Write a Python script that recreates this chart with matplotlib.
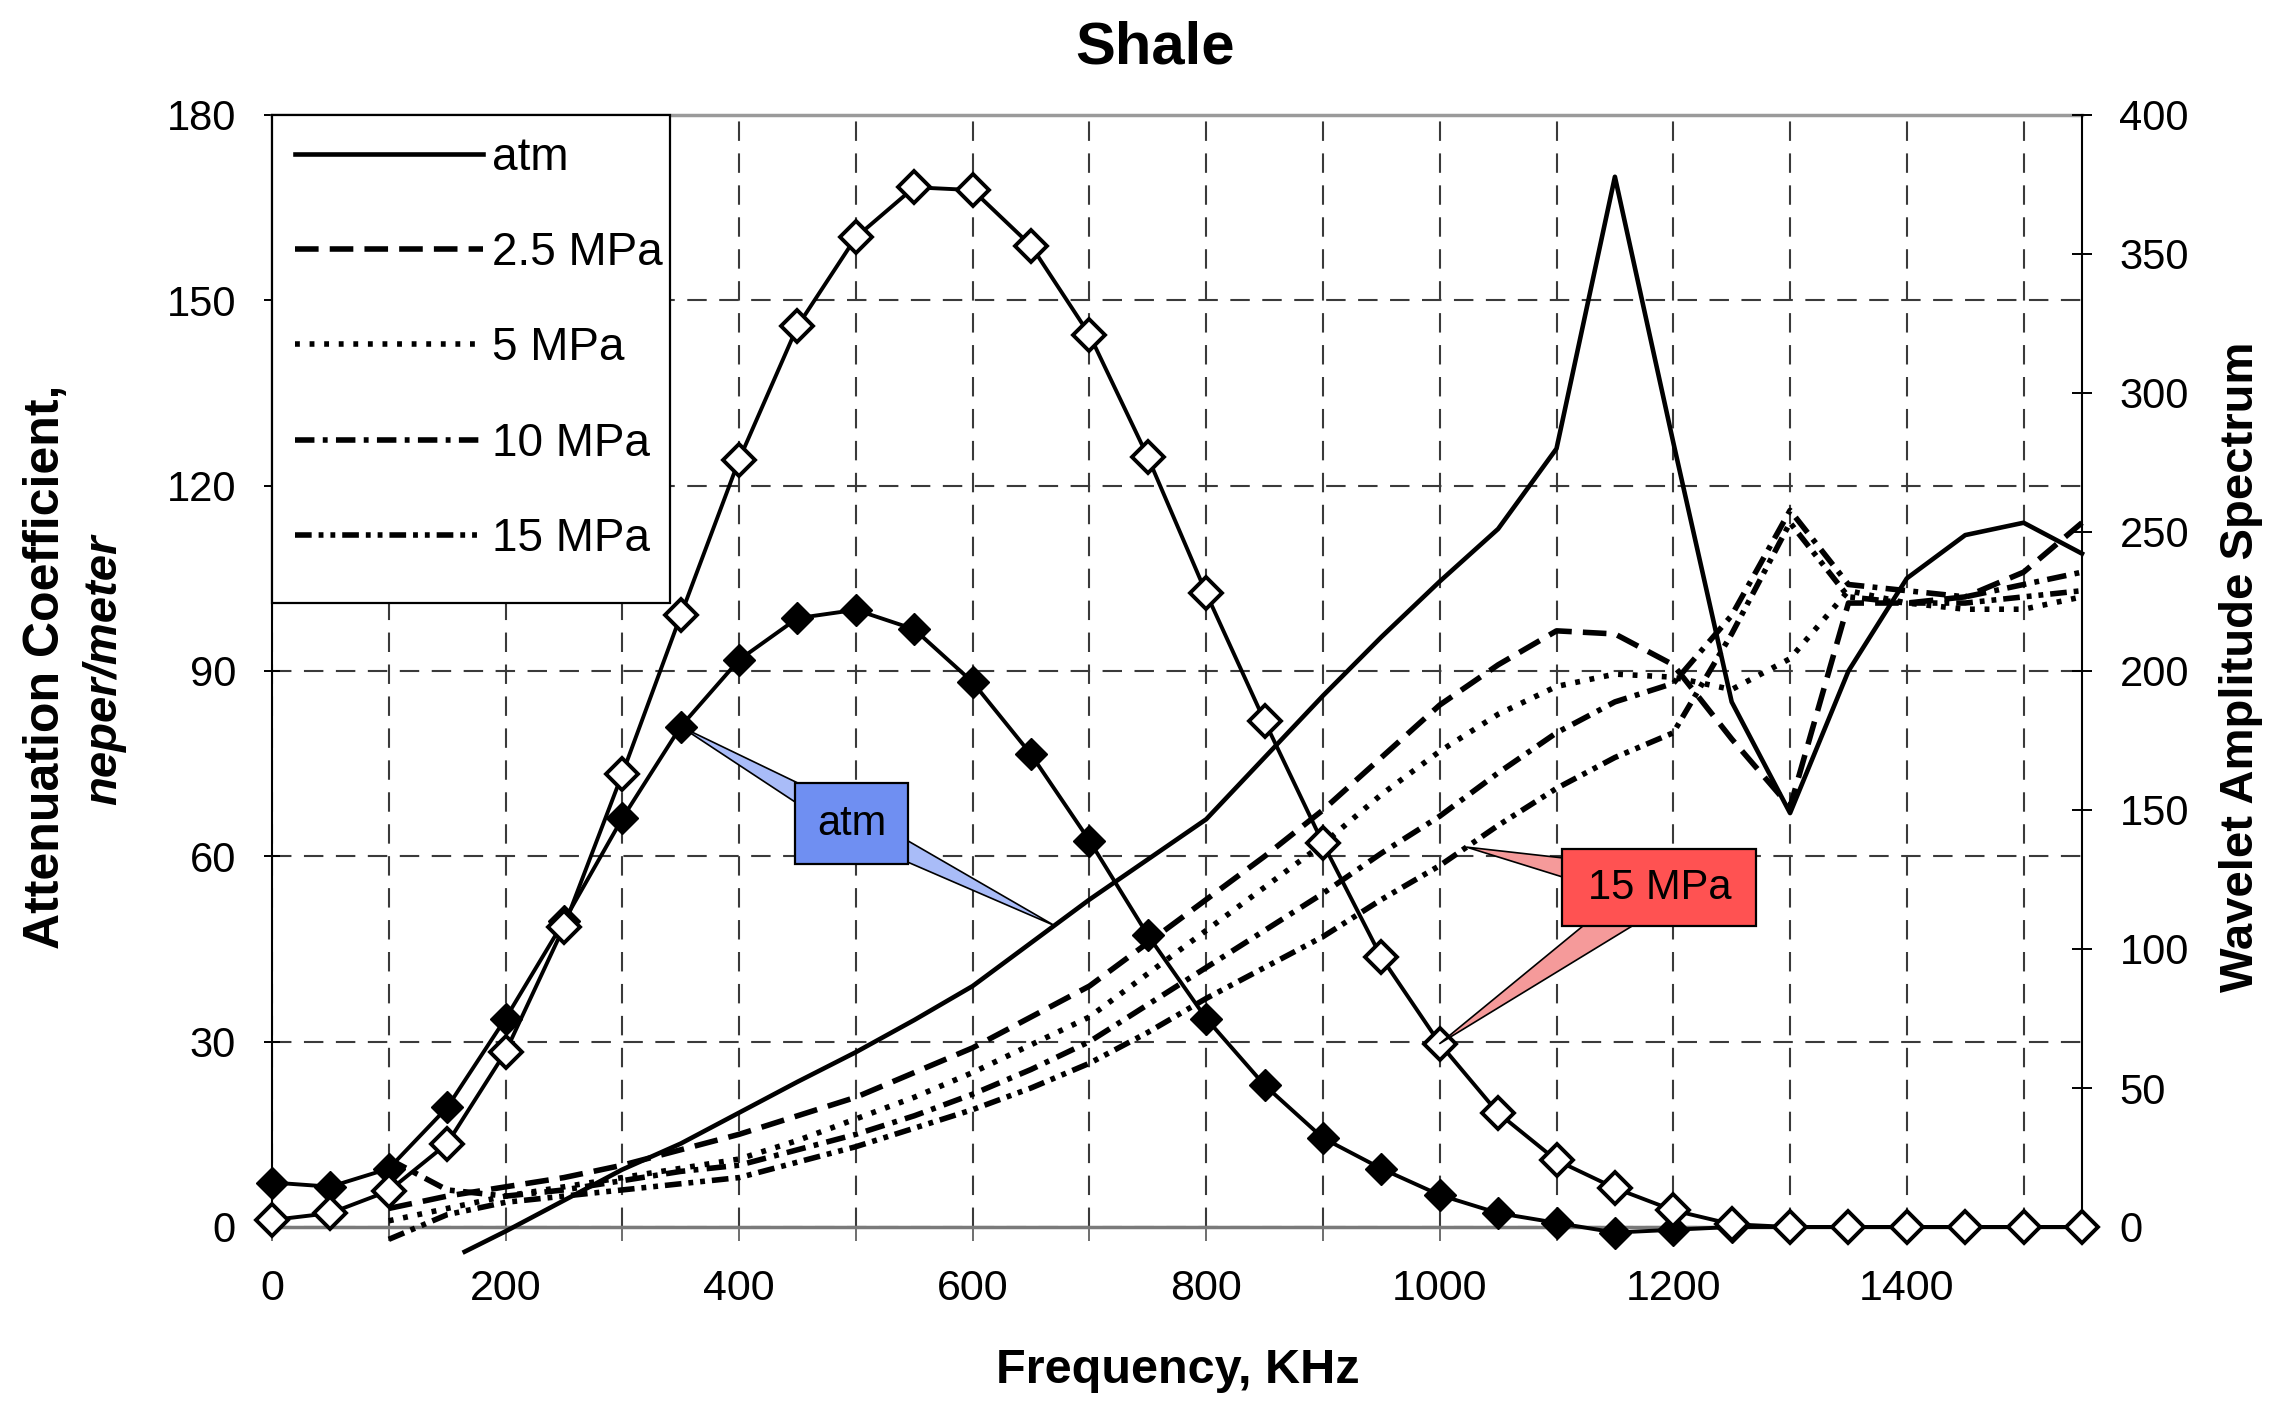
import matplotlib
matplotlib.use("Agg")
import matplotlib.pyplot as plt
import numpy as np
from matplotlib.patches import Rectangle

plt.rcParams['font.family'] = ['Liberation Sans', 'DejaVu Sans']
plt.rcParams['lines.scale_dashes'] = False

# ---------------- data ----------------
# Wavelet amplitude spectrum (right axis), diamonds
spec_freq = [0, 50, 100, 150, 200, 250, 300, 350, 400, 450, 500, 550, 600, 650, 700, 750,
             800, 850, 900, 950, 1000, 1050, 1100, 1150, 1200, 1250, 1300, 1350, 1400, 1450, 1500, 1550]
spec_atm = [16, 14.5, 21, 43, 75, 110, 147, 180, 204, 219, 222, 215, 196, 170, 139, 105,
            75, 51, 32, 21, 11.5, 5, 1.5, -2, -1, 0, 0, 0, 0, 0, 0, 0]
spec_15 = [2.5, 5, 13, 30, 63, 108, 163, 220, 276, 324, 356, 374, 373, 353, 321, 277,
           228, 182, 138, 97, 66, 41, 24, 14, 6, 1, 0, 0, 0, 0, 0, 0]

# Attenuation coefficient (left axis)
atm_freq = [165, 200, 250, 300, 350, 400, 450, 500, 550, 600, 650, 700, 750, 800, 850, 900,
            950, 1000, 1050, 1100, 1150, 1200, 1250, 1300, 1350, 1400, 1450, 1500, 1550]
att_atm = [-4, -0.7, 4.3, 9.3, 13.5, 18.5, 23.5, 28.3, 33.5, 39, 46, 53, 59.5, 66, 76, 86,
           95.5, 104.5, 113, 126, 170, 127, 85, 67, 90, 105, 112, 114, 109]

att_freq = [100, 150, 200, 250, 300, 350, 400, 450, 500, 550, 600, 650, 700, 750, 800, 850,
            900, 950, 1000, 1050, 1100, 1150, 1200, 1250, 1300, 1350, 1400, 1450, 1500, 1550]
att_25 = [3, 5, 6.5, 8, 10, 12.5, 15, 18, 21, 25, 29, 34, 39, 46, 53, 60,
          67.5, 76, 84.5, 91, 96.5, 96, 91, 79, 68, 101, 101, 102, 106, 114]
att_5 = [1, 3, 5, 6.5, 8, 9.5, 11, 14, 17.5, 21, 25, 29.5, 34, 41, 48, 55,
         62, 70, 77, 83, 87.5, 89.5, 89, 87, 92, 103, 101, 100, 100, 102]
att_10 = [11, 6, 5, 6, 7.5, 9, 10, 12.5, 15, 18, 21.5, 25.5, 30, 36, 42, 48,
          54, 60.5, 66.5, 73.5, 80, 85, 88, 99, 116, 104, 103, 102, 104, 106]
att_15 = [-2, 2, 4, 5, 6, 7, 8, 10.5, 13, 16, 19, 22.5, 26.5, 31.5, 37, 42,
          47, 53, 58.5, 65, 71, 76, 80, 96, 114, 102, 101, 101, 102, 103]

legend_labels = ['atm', '2.5 MPa', '5 MPa', '10 MPa', '15 MPa']
left_ticks = [0, 30, 60, 90, 120, 150, 180]
right_ticks = [0, 50, 100, 150, 200, 250, 300, 350, 400]
x_ticks = [0, 200, 400, 600, 800, 1000, 1200, 1400]

# ---------------- figure ----------------
W, H = 2274, 1401
fig = plt.figure(figsize=(W / 100, H / 100), dpi=100)
L, R, T, B = 272, 2082, 115, 1227
ax1 = fig.add_axes([L / W, 1 - B / H, (R - L) / W, (B - T) / H])
ax2 = ax1.twinx()

ax1.set_xlim(0, 1550)
ax1.set_ylim(0, 180)
ax2.set_ylim(0, 400)

# grid
grid_kw = dict(color='#3a3a3a', lw=1.5, linestyle=(0, (14, 9)))
ax1.set_xticks(x_ticks)
ax1.set_xticks([100, 300, 500, 700, 900, 1100, 1300, 1500], minor=True)
ax1.set_yticks(left_ticks)
ax2.set_yticks(right_ticks)
ax1.grid(True, which='both', axis='x', **grid_kw)
ax1.grid(True, which='major', axis='y', **grid_kw)
ax1.set_axisbelow(True)

# attenuation lines
lw_b = 4.0
h_atm, = ax1.plot(atm_freq, att_atm, color='black', lw=3.3, clip_on=False, zorder=3)
h25, = ax1.plot(att_freq, att_25, color='black', lw=lw_b, dashes=[17, 8], clip_on=False, zorder=3)
h5, = ax1.plot(att_freq, att_5, color='black', lw=lw_b, dashes=[3.5, 7], clip_on=False, zorder=3)
h10, = ax1.plot(att_freq, att_10, color='black', lw=lw_b, dashes=[14, 6, 3.5, 6], clip_on=False, zorder=3)
h15, = ax1.plot(att_freq, att_15, color='black', lw=lw_b, dashes=[12, 5, 3.5, 5, 3.5, 5], clip_on=False, zorder=3)

# spectra
ax2.plot(spec_freq, spec_atm, color='black', lw=2.8, marker='D', ms=16.5,
         mfc='black', mec='black', clip_on=False, zorder=3)
ax2.plot(spec_freq, spec_15, color='black', lw=2.8, marker='D', ms=16.5,
         mfc='white', mec='black', mew=2.8, clip_on=False, zorder=4)

# ticks / spines
ax1.tick_params(axis='y', direction='inout', length=12, width=1.4, labelsize=30, pad=20)
ax1.tick_params(axis='x', which='both', direction='out', length=10, width=1.2,
                color='#555555', labelsize=31, pad=20)
ax2.tick_params(axis='y', direction='inout', length=14, width=1.4, labelsize=30, pad=20)
ax1.spines['top'].set_color('#9a9a9a')
ax1.spines['top'].set_linewidth(2.5)
ax1.spines['bottom'].set_color('#7a7a7a')
ax1.spines['bottom'].set_linewidth(2.5)
ax1.spines['left'].set_linewidth(1.5)
ax1.spines['right'].set_visible(False)
for s in ['top', 'bottom', 'left']:
    ax2.spines[s].set_visible(False)
ax2.spines['right'].set_linewidth(1.5)

# legend (frame drawn as a separate box to match the reference proportions)
ax2.add_patch(Rectangle((0, 0.561), 0.22, 0.439, transform=ax2.transAxes, fc='white',
                        ec='black', lw=1.6, zorder=7, clip_on=False))
leg = ax2.legend([h_atm, h25, h5, h10, h15], legend_labels, loc='upper left',
                 bbox_to_anchor=(0.0, 1.002), borderaxespad=0, fontsize=33, frameon=False,
                 handlelength=4.1, handletextpad=0.2, labelspacing=1.12, borderpad=0.5)
leg.set_zorder(8)

# callouts
def callout(text, x0, x1, y0, y1, fc, wfc, tail, targets):
    cx, cy = (x0 + x1) / 2, (y0 + y1) / 2
    for (tx, ty, trans) in targets:
        ax2.annotate('', xy=(tx, ty), xycoords=trans, xytext=(cx, cy),
                     textcoords=ax1.transData,
                     arrowprops=dict(arrowstyle='wedge,tail_width=1.0,shrink_factor=0.5',
                                     mutation_scale=tail, fc=wfc, ec='black', lw=1.2,
                                     shrinkA=0, shrinkB=0), zorder=9)
    ax2.add_patch(Rectangle((x0, y0), x1 - x0, y1 - y0, transform=ax1.transData,
                            fc=fc, ec='black', lw=1.6, zorder=10))
    ax2.text(cx, cy, text, transform=ax1.transData, ha='center', va='center',
             fontsize=30, zorder=11)

i350 = spec_freq.index(350)
callout('atm', 448, 545, 58.8, 71.8, '#6F8FF2', '#A9BCF8', 19,
        [(spec_freq[i350], spec_atm[i350], ax2.transData),
         (670, float(np.interp(670, atm_freq, att_atm)), ax1.transData)])
i1000 = spec_freq.index(1000)
callout('15 MPa', 1105, 1271, 48.7, 61.2, '#FF5252', '#F59A9A', 27,
        [(1023, float(np.interp(1023, att_freq, att_15)), ax1.transData),
         (spec_freq[i1000], spec_15[i1000], ax2.transData)])

# texts
fig.text(0.508, 0.966, 'Shale', ha='center', va='center', fontsize=43, fontweight='bold')
fig.text(0.518, 0.022, 'Frequency, KHz', ha='center', va='center', fontsize=35, fontweight='bold')
fig.text(0.0204, 0.524, 'Attenuation Coefficient,', rotation=90, ha='center', va='center',
         fontsize=36, fontweight='bold')
fig.text(0.0459, 0.522, 'neper/meter', rotation=90, ha='center', va='center',
         fontsize=34, fontweight='bold', fontstyle='italic')
fig.text(0.9855, 0.524, 'Wavelet Amplitude Spectrum', rotation=90, ha='center', va='center',
         fontsize=34, fontweight='bold')

fig.savefig('out.png', dpi=100)
